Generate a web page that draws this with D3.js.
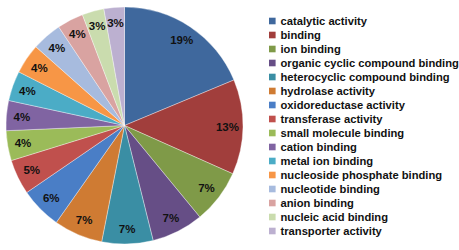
<!DOCTYPE html>
<html><head><meta charset="utf-8">
<script src="https://cdn.jsdelivr.net/npm/d3@7"></script>
<style>html,body{margin:0;padding:0;background:#fff;}</style>
</head><body>
<svg id="chart" width="459" height="250"></svg>
<script>
const categories = ["catalytic activity","binding","ion binding","organic cyclic compound binding","heterocyclic compound binding","hydrolase activity","oxidoreductase activity","transferase activity","small molecule binding","cation binding","metal ion binding","nucleoside phosphate binding","nucleotide binding","anion binding","nucleic acid binding","transporter activity"];
const values = [18.8,13.0,7.4,7.1,7.0,6.7,5.7,4.8,4.1,4.1,4.1,4.1,4.1,3.6,3.0,2.8];
const labels = ["19%","13%","7%","7%","7%","7%","6%","5%","4%","4%","4%","4%","4%","4%","3%","3%"];
const colors = ["#3F689D","#A13E3C","#7F9A48","#664E86","#3A8EA4","#CF7B33","#4A7EC6","#C0504D","#9BBB59","#8064A2","#4BACC6","#F79646","#A7BBDE","#D9A3A1","#CADCAE","#BCB0D0"];

const svg = d3.select("#chart");
const cx = 124.5, cy = 125.5, R = 118.5;
const g = svg.append("g").attr("transform", `translate(${cx},${cy})`);
const pie = d3.pie().sort(null).value(d => d.v);
const data = pie(values.map((v,i)=>({v, i})));
const arc = d3.arc().innerRadius(0).outerRadius(R);
const labelArc = d3.arc().innerRadius(103).outerRadius(103);
const color = d3.scaleOrdinal().domain(categories).range(colors);

g.selectAll("path").data(data).enter().append("path")
  .attr("d", arc)
  .attr("fill", d => color(categories[d.data.i]))
  .attr("stroke", "rgba(255,255,255,0.45)")
  .attr("stroke-width", 0.8);

g.selectAll("text.lbl").data(data).enter().append("text")
  .attr("class","lbl")
  .attr("transform", d => `translate(${labelArc.centroid(d)})`)
  .attr("text-anchor","middle").attr("dy","0.36em")
  .style("font-family","'Liberation Sans', Arial, sans-serif")
  .style("font-weight","bold").style("font-size","11.5px").attr("fill","#111")
  .text(d => labels[d.data.i]);

const y = d3.scalePoint().domain(categories).range([21, 231]);
const leg = svg.append("g");
const rows = leg.selectAll("g").data(categories).enter().append("g")
  .attr("transform", d => `translate(269,${y(d)})`);
rows.append("rect").attr("x",0).attr("y",-3.3).attr("width",6.6).attr("height",6.6)
  .attr("fill", d => color(d));
rows.append("text").attr("x",11.5).attr("dy","0.36em")
  .style("font-family","'Liberation Sans', Arial, sans-serif")
  .style("font-weight","bold").style("font-size","11.2px").attr("fill","#111")
  .text(d => d);
</script>
</body></html>
